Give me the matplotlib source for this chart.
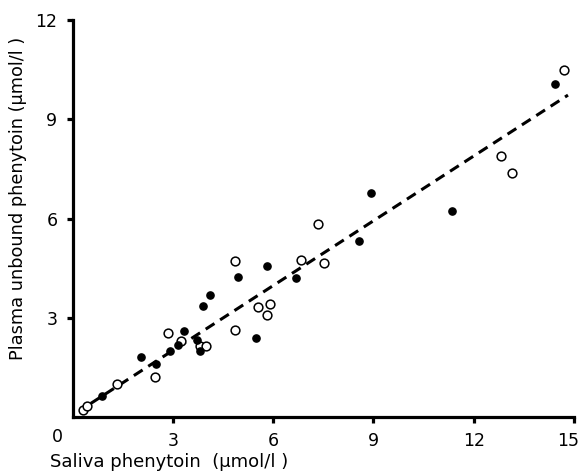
import matplotlib
matplotlib.use("Agg")
import matplotlib.pyplot as plt
import matplotlib.transforms as mtransforms
import numpy as np

# Open circles
open_x = [0.32, 0.42, 1.33, 2.47, 2.84, 3.25, 3.82, 3.98, 4.86, 4.87, 5.53, 5.90, 5.82,
          6.82, 7.35, 7.51, 12.83, 13.13, 14.71]
open_y = [0.20, 0.33, 1.00, 1.20, 2.53, 2.30, 2.16, 2.15, 4.71, 2.63, 3.32, 3.41, 3.08,
          4.74, 5.82, 4.64, 7.89, 7.38, 10.49]
# Filled circles
filled_x = [0.89, 2.04, 2.48, 2.90, 3.16, 3.33, 3.73, 3.82, 3.91, 4.12, 4.94, 5.47, 5.81,
            6.69, 8.56, 8.92, 11.34, 14.42]
filled_y = [0.62, 1.81, 1.60, 1.98, 2.19, 2.61, 2.33, 1.99, 3.36, 3.69, 4.22, 2.40, 4.56,
            4.21, 5.33, 6.78, 6.23, 10.06]
# Regression line
line_slope = 0.6527
line_intercept = 0.057
line_x = [0.54, 14.82]

x_ticks = [3, 6, 9, 12, 15]
y_ticks = [3, 6, 9, 12]

fig = plt.figure(figsize=(5.83, 4.73), dpi=100)
ax = fig.add_axes([72.7/583, 1-417/473, (574-72.7)/583, (417-20)/473])

lx = np.array(line_x)
ax.plot(lx, line_slope*lx + line_intercept, color='black', lw=2.2, ls=(0, (3.4, 2.2)),
        dash_capstyle='butt', zorder=1)
ax.plot(filled_x, filled_y, 'o', color='black', ms=5.2, zorder=3)
ax.plot(open_x, open_y, 'o', mfc='white', mec='black', mew=1.1, ms=6.3, zorder=2)

ax.set_xlim(0, 15)
ax.set_ylim(0, 12)
for s in ['top', 'right']:
    ax.spines[s].set_visible(False)
for s in ['left', 'bottom']:
    ax.spines[s].set_linewidth(2.3)
ax.set_xticks(x_ticks)
ax.set_yticks(y_ticks)
ax.set_xticklabels([str(t) for t in x_ticks])
ax.set_yticklabels([str(t) for t in y_ticks])
ax.tick_params(direction='out', length=4, width=2.3, labelsize=12.5, pad=7)

# keep the last x label inside the figure
fig.canvas.draw()
last = ax.get_xticklabels()[-1]
last.set_transform(last.get_transform() +
                   mtransforms.ScaledTranslation(-6/100, 0, fig.dpi_scale_trans))

fig.text(57/583, 1-437/473, "0", fontsize=12.5, ha='center', va='center')
fig.text(50/583, 1-462/473, "Saliva phenytoin  (μmol/l )", fontsize=13, ha='left', va='center')
fig.text(18/583, 1-198/473, "Plasma unbound phenytoin (μmol/l )", fontsize=12.8,
         ha='center', va='center', rotation=90)

fig.savefig("out.png", dpi=100)
